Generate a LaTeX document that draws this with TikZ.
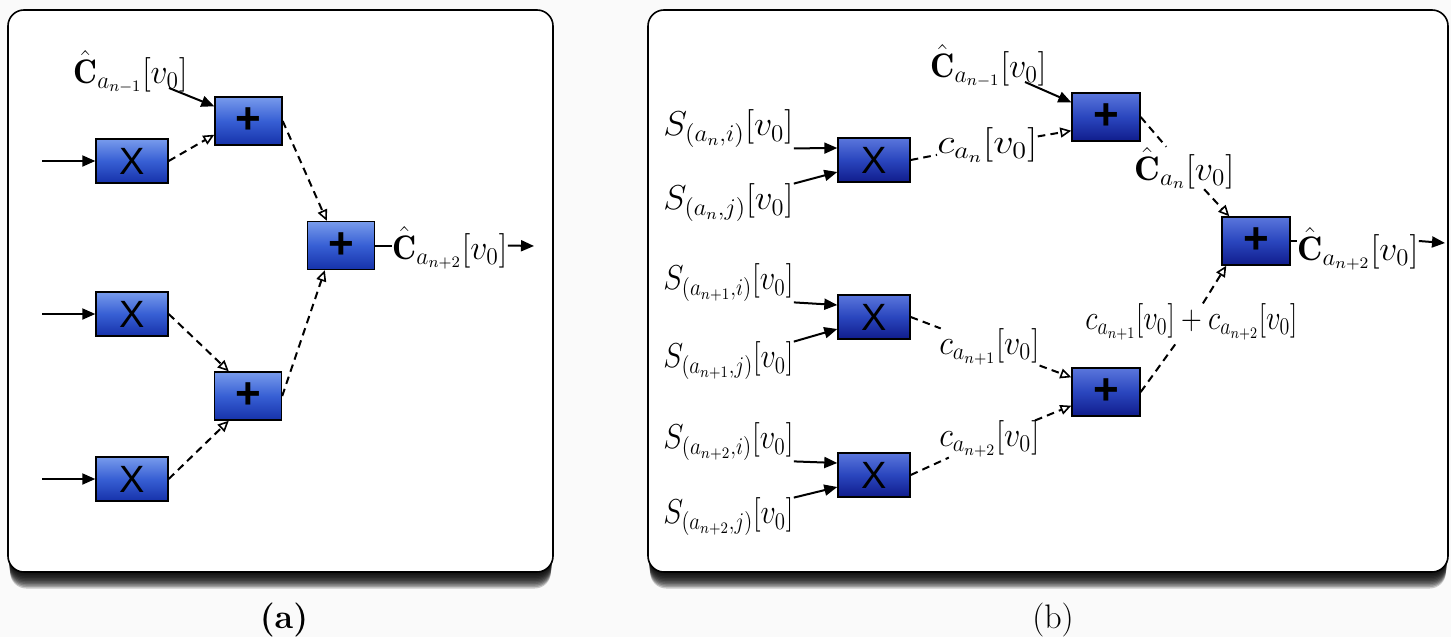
\documentclass[tikz,border=0pt]{standalone}
\usepackage{amsmath,amssymb}
\usepackage{graphicx}
\usepackage{fontspec}
\newfontfamily\boxfont{Liberation Sans}
\usetikzlibrary{arrows.meta,calc}
\definecolor{atop}{RGB}{120,155,236}
\definecolor{amid}{RGB}{55,95,212}
\definecolor{abot}{RGB}{22,50,170}
\definecolor{btop}{RGB}{90,118,220}
\definecolor{bmid}{RGB}{42,70,190}
\definecolor{bbot}{RGB}{16,28,140}
\newcommand{\fitw}[2]{\resizebox{#1}{\height}{#2}}
\begin{document}
\begin{tikzpicture}[x=0.5pt,y=-0.5pt,
  lbl/.style={inner sep=0pt, anchor=west, font=\fontsize{17}{19}\selectfont},
  opA/.style={draw=black, line width=0.7pt, inner sep=0pt, top color=atop, bottom color=abot, middle color=amid},
  opB/.style={draw=black, line width=0.7pt, inner sep=0pt, top color=btop, bottom color=bbot, middle color=bmid},
  xsym/.style={font=\boxfont\fontsize{19}{19}\selectfont},
  psym/.style={font=\boxfont\bfseries\fontsize{22}{22}\selectfont},
  xA/.style={opA, xsym, minimum width=36pt, minimum height=22pt},
  pA/.style={opA, psym, minimum width=33.5pt, minimum height=24pt},
  xB/.style={opB, xsym, minimum width=36pt, minimum height=22pt},
  pB/.style={opB, psym, minimum width=34pt, minimum height=24pt},
  solidarr/.style={line width=1pt, -{Triangle[length=6.5pt,width=5.5pt]}},
  plainline/.style={line width=1pt},
  dashline/.style={line width=1pt, dash pattern=on 3.8pt off 2.6pt},
  dasharr/.style={dashline, -{Triangle[open,length=5.5pt,width=5pt,line width=0.8pt]}},
  frame/.style={draw=black, line width=0.8pt, fill=white, rounded corners=8pt},
  caption/.style={inner sep=0pt, font=\fontsize{17}{19}\selectfont}
]
\useasboundingbox (0,0) rectangle (1451,637);
\fill[white!98!black] (0,0) rectangle (1451,637);

% shadows
\foreach \i in {1,...,11}{
  \fill[black, opacity=0.2, rounded corners=8pt] (8+0.2*\i,10+1.5*\i) rectangle (553-0.2*\i,572+1.5*\i);
  \fill[black, opacity=0.2, rounded corners=8pt] (648+0.2*\i,10+1.5*\i) rectangle (1448-0.2*\i,572+1.5*\i);
}
\draw[frame] (8,10) rectangle (553,572);
\draw[frame] (648,10) rectangle (1448,572);

% ---------------- panel (a)
\node[pA] (pa1) at (248.5,121) {+};
\node[xA] (xa1) at (132,161) {X};
\node[pA] (pa2) at (341,245.5) {+};
\node[xA] (xa2) at (132,314) {X};
\node[pA] (pa3) at (248,396) {+};
\node[xA] (xa3) at (132,479) {X};

\coordinate (ia1) at (42,161);
\coordinate (ia2) at (42,314);
\coordinate (ia3) at (42,479);
\draw[solidarr] (ia1) -- (xa1.west);
\draw[solidarr] (ia2) -- (xa2.west);
\draw[solidarr] (ia3) -- (xa3.west);

\node[lbl] (ca) at (73,72) {\fitw{57pt}{$\hat{\mathbf{C}}_{a_{n-1}}[v_0]$}};
\coordinate (ca-s) at (169,88);
\draw[solidarr] (ca-s) -- ([yshift=-5pt]pa1.north west);

\node[lbl] (outa) at (392,248) {\fitw{57.5pt}{$\hat{\mathbf{C}}_{a_{n+2}}[v_0]$}};
\coordinate (outa-e) at (534,246);
\draw[plainline] (pa2.east) -- (pa2.east -| outa.west);
\draw[solidarr] (outa.east |- pa2.east) -- (outa-e);

\draw[dasharr] (xa1.east) -- ([yshift=5.5pt]pa1.south west);
\draw[dasharr] (pa1.east) -- ([xshift=10pt]pa2.north west);
\draw[dasharr] (xa2.east) -- ([xshift=7.5pt]pa3.north west);
\draw[dasharr] (xa3.east) -- ([xshift=7.5pt]pa3.south west);
\draw[dasharr] (pa3.east) -- ([xshift=9pt]pa2.south west);

\node[caption] (capa) at (284,620) {\textbf{(a)}};

% ---------------- panel (b)
\node[xB] (xb1) at (874,160) {X};
\node[pB] (pb1) at (1106,117) {+};
\node[pB] (pb2) at (1256,241) {+};
\node[xB] (xb2) at (874,317) {X};
\node[pB] (pb3) at (1106,392) {+};
\node[xB] (xb3) at (874,475) {X};

\node[lbl] (s1i) at (663,129) {\fitw{65pt}{$S_{(a_n,i)}[v_0]$}};
\node[lbl] (s1j) at (663,203) {\fitw{65pt}{$S_{(a_n,j)}[v_0]$}};
\node[lbl] (s2i) at (663,283) {\fitw{65pt}{$S_{(a_{n+1},i)}[v_0]$}};
\node[lbl] (s2j) at (663,361) {\fitw{65pt}{$S_{(a_{n+1},j)}[v_0]$}};
\node[lbl] (s3i) at (663,442) {\fitw{65pt}{$S_{(a_{n+2},i)}[v_0]$}};
\node[lbl] (s3j) at (663,517) {\fitw{65pt}{$S_{(a_{n+2},j)}[v_0]$}};

\draw[solidarr] (s1i.south east) -- ([yshift=6pt]xb1.west);
\draw[solidarr] (s1j.north east) -- ([yshift=-6pt]xb1.west);
\draw[solidarr] (s2i.south east) -- ([yshift=6pt]xb2.west);
\draw[solidarr] (s2j.north east) -- ([yshift=-6pt]xb2.west);
\draw[solidarr] (s3i.south east) -- ([yshift=6pt]xb3.west);
\draw[solidarr] (s3j.north east) -- ([yshift=-6pt]xb3.west);

\node[lbl] (cbm) at (930,66) {\fitw{58pt}{$\hat{\mathbf{C}}_{a_{n-1}}[v_0]$}};
\coordinate (cbm-s) at (1025,82);
\draw[solidarr] (cbm-s) -- ([yshift=-5pt]pb1.north west);

\node[lbl] (c1) at (937,145) {\fitw{50pt}{$c_{a_n}[v_0]$}};
\node[lbl] (c2) at (939,347) {\fitw{50pt}{$c_{a_{n+1}}[v_0]$}};
\node[lbl] (c3) at (939,439) {\fitw{50pt}{$c_{a_{n+2}}[v_0]$}};
\node[lbl] (cn) at (1134,168) {\fitw{50pt}{$\hat{\mathbf{C}}_{a_n}[v_0]$}};
\node[lbl] (sum) at (1085,322) {\fitw{106pt}{$c_{a_{n+1}}[v_0]+c_{a_{n+2}}[v_0]$}};

\draw[dashline] (xb1.east) -- (c1);
\draw[dasharr] (c1) -- ([yshift=5.5pt]pb1.south west);
\draw[dashline] (pb1.east) -- (cn);
\draw[dasharr] (cn) -- ([xshift=4pt]pb2.north west);
\draw[dashline] (xb2.east) -- (c2);
\draw[dasharr] (c2) -- ([yshift=-5pt]pb3.north west);
\draw[dashline] (xb3.east) -- (c3);
\draw[dasharr] (c3) -- ([yshift=5.5pt]pb3.south west);
\draw[dashline] (pb3.east) -- (sum);
\draw[dasharr] (sum) -- ([xshift=2.5pt]pb2.south west);

\node[lbl] (outb) at (1297,249) {\fitw{60.5pt}{$\hat{\mathbf{C}}_{a_{n+2}}[v_0]$}};
\coordinate (outb-e) at (1445,243);
\draw[plainline] (pb2.east) -- (pb2.east -| outb.west);
\draw[solidarr] (outb.east |- pb2.east) -- (outb-e);

\node[caption] (capb) at (1053,620) {(b)};
\end{tikzpicture}
\end{document}
